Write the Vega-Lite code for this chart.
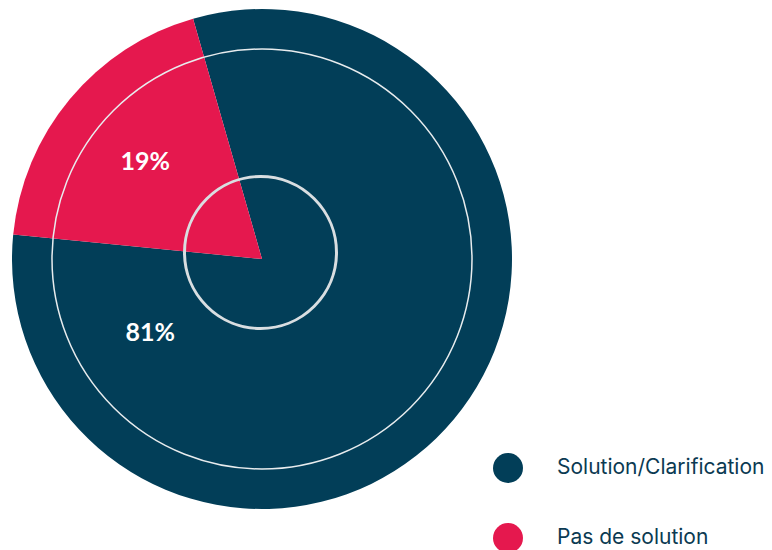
{
  "$schema": "https://vega.github.io/schema/vega-lite/v6.json",
  "width": 524,
  "height": 518,
  "padding": 0,
  "autosize": {"type": "pad"},
  "background": "white",
  "config": {"view": {"stroke": null}, "font": "Lato"},
  "datasets": {
    "parts": [
      {"categorie": "Solution/Clarification", "valeur": 81, "ordre": 1, "label": "81%"},
      {"categorie": "Pas de solution", "valeur": 19, "ordre": 2, "label": "19%"}
    ],
    "cercles": [{"cercle": "anneau"}]
  },
  "layer": [
    {
      "data": {"name": "parts"},
      "mark": {"type": "arc", "outerRadius": 250},
      "encoding": {
        "theta": {"field": "valeur", "type": "quantitative", "stack": true, "scale": {"range": [-0.2793, 6.0039]}},
        "order": {"field": "ordre", "type": "quantitative"},
        "color": {
          "field": "categorie",
          "type": "nominal",
          "scale": {"domain": ["Solution/Clarification", "Pas de solution"], "range": ["#023e58", "#e5184e"]},
          "legend": {
            "title": null,
            "orient": "none",
            "legendX": 493,
            "legendY": 453,
            "symbolType": "circle",
            "symbolSize": 900,
            "symbolStrokeWidth": 0,
            "symbolOpacity": 1,
            "labelFontSize": 21,
            "labelFont": "Inter",
            "labelColor": "#0b3a52",
            "labelOffset": 34,
            "labelLimit": 0,
            "rowPadding": 40,
            "padding": 0
          }
        }
      }
    },
    {
      "data": {"name": "cercles"},
      "mark": {"type": "arc", "outerRadius": 210, "innerRadius": 0, "theta": 0, "theta2": 6.2832, "fillOpacity": 0, "stroke": "#e8ecee", "strokeWidth": 1.5},
      "encoding": {}
    },
    {
      "data": {"name": "cercles"},
      "mark": {"type": "arc", "outerRadius": 76, "innerRadius": 0, "theta": 0, "theta2": 6.2832, "fillOpacity": 0, "stroke": "#d9dee1", "strokeWidth": 3, "xOffset": -1.5, "yOffset": -6.5},
      "encoding": {}
    },
    {
      "data": {"name": "parts"},
      "mark": {"type": "text", "radius": 152, "font": "Lato", "fontWeight": "bold", "fontSize": 25, "color": "white", "align": "center", "baseline": "middle"},
      "encoding": {
        "theta": {"field": "valeur", "type": "quantitative", "stack": true},
        "order": {"field": "ordre", "type": "quantitative"},
        "text": {"condition": {"test": "datum.categorie === 'Pas de solution'", "field": "label"}, "value": ""}
      }
    },
    {
      "data": {"name": "parts"},
      "mark": {"type": "text", "radius": 134, "thetaOffset": 1.862, "font": "Lato", "fontWeight": "bold", "fontSize": 25, "color": "white", "align": "center", "baseline": "middle"},
      "encoding": {
        "theta": {"field": "valeur", "type": "quantitative", "stack": true},
        "order": {"field": "ordre", "type": "quantitative"},
        "text": {"condition": {"test": "datum.categorie === 'Solution/Clarification'", "field": "label"}, "value": ""}
      }
    }
  ]
}
